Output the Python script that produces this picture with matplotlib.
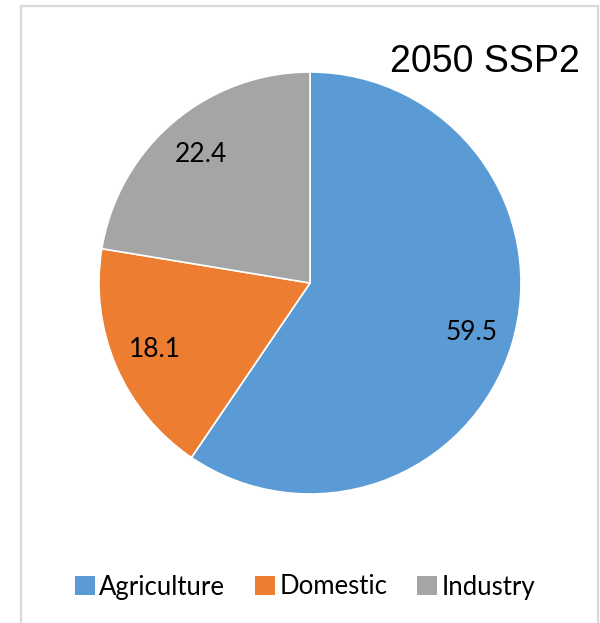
import matplotlib
matplotlib.use("Agg")
import matplotlib.pyplot as plt
from matplotlib.patches import Rectangle

categories = ["Agriculture", "Domestic", "Industry"]
values = [59.5, 18.1, 22.4]
colors = ["#5B9BD5", "#ED7D31", "#A5A5A5"]
title = "2050 SSP2"

W, H = 600, 623
fig = plt.figure(figsize=(W / 100, H / 100), dpi=100)

# border
fig.patches.append(Rectangle((21 / W, -0.05), (598 - 21) / W, (H - 6) / H + 0.05,
                             transform=fig.transFigure, fill=False,
                             edgecolor="#d9d9d9", linewidth=1.6))

cx, cy, r = 310, 283, 211
ax = fig.add_axes([(cx - r) / W, (H - cy - r) / H, 2 * r / W, 2 * r / H])
wedges, texts = ax.pie(values, colors=colors, startangle=90, counterclock=False,
                       labels=[f"{v:.1f}" for v in values], labeldistance=0.8,
                       wedgeprops=dict(edgecolor="white", linewidth=1.2),
                       textprops=dict(fontsize=19, family=["Lato", "DejaVu Sans"], color="black"))
for t in texts:
    t.set_ha("center")
    t.set_va("center")
ax.set_xlim(-1, 1)
ax.set_ylim(-1, 1)
ax.axis("off")

fig.text(580 / W, 1 - 72 / H, title, ha="right", va="baseline",
         fontsize=27, family=["Liberation Sans", "DejaVu Sans"])

leg = fig.legend(wedges, categories, loc="center", bbox_to_anchor=(305 / W, 1 - 587 / H),
                 ncol=3, frameon=False, handlelength=0.78, handleheight=0.78,
                 handletextpad=0.16, columnspacing=1.17,
                 prop=dict(family=["Lato", "DejaVu Sans"], size=18.5))
for h in leg.legend_handles:
    h.set_edgecolor("none")

fig.savefig("out.png", dpi=100)
